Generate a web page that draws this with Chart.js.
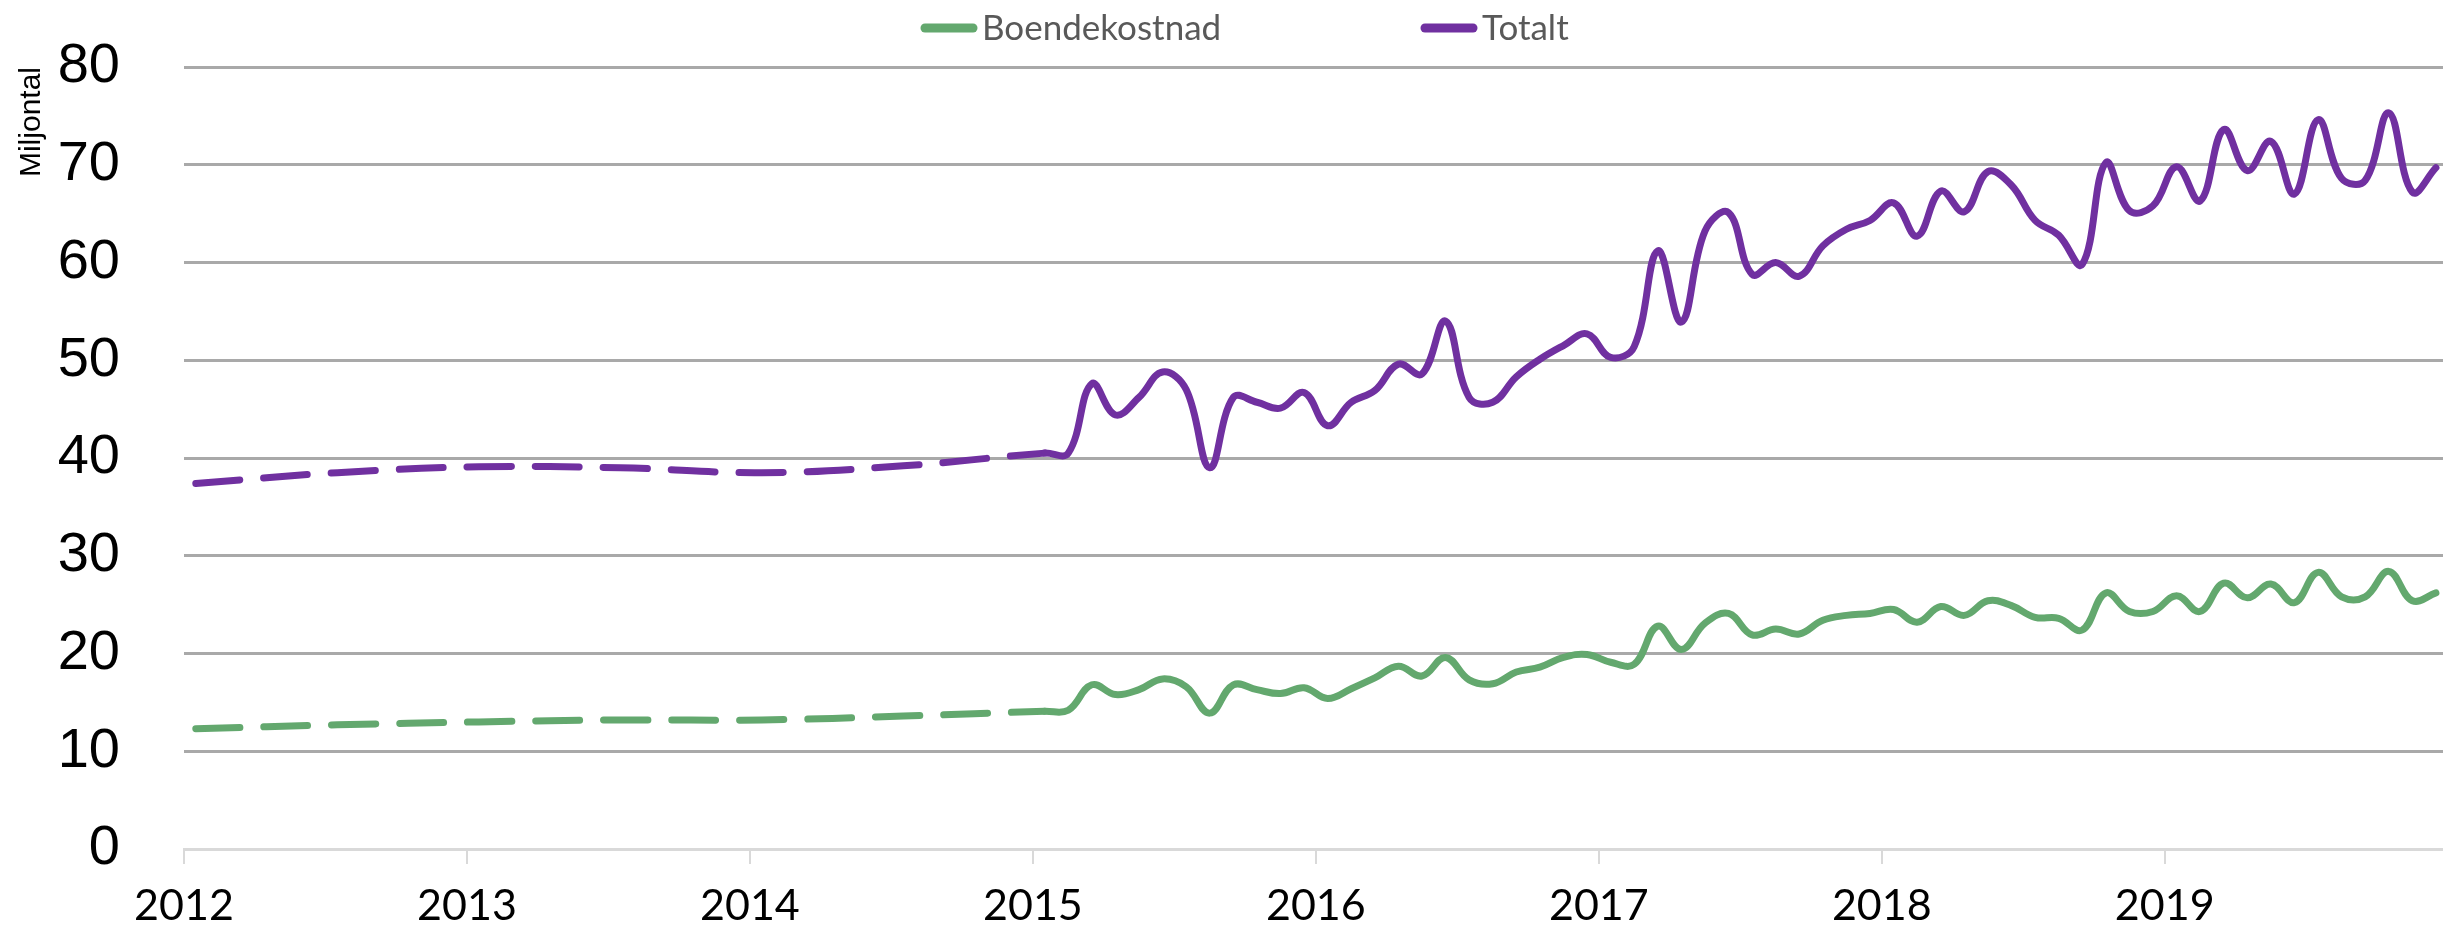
<!DOCTYPE html>
<html>
<head>
<meta charset="utf-8">
<script src="https://cdn.jsdelivr.net/npm/chart.js@4.4.1/dist/chart.umd.min.js"></script>
<style>
  html, body { margin: 0; padding: 0; background: #fff; }
  #wrap { width: 2443px; height: 934px; }
</style>
</head>
<body>
<div id="wrap"><canvas id="chart"></canvas></div>
<script>
// estimated (dashed) part, sparse points
const estDates = ['2012-01', '2012-07', '2013-01', '2013-07', '2014-01', '2014-07'];
const estBoende = [12.3, 12.7, 13.0, 13.2, 13.2, 13.6];
const estTotalt = [37.4, 38.5, 39.1, 39.0, 38.5, 39.2];

// monthly values, Jan 2015 - Dec 2019
const boende = [
    14.1, 14.2, 16.8, 15.8, 16.3, 17.4, 16.6, 13.9, 16.8, 16.3, 15.9, 16.5,
    15.4, 16.4, 17.5, 18.7, 17.7, 19.6, 17.3, 16.9, 18.1, 18.6, 19.6, 19.9,
    19.1, 18.9, 22.8, 20.4, 23.1, 24.1, 21.9, 22.5, 22.0, 23.4, 23.9, 24.1,
    24.5, 23.2, 24.8, 23.9, 25.4, 24.9, 23.7, 23.6, 22.4, 26.2, 24.3, 24.3,
    25.9, 24.3, 27.2, 25.7, 27.1, 25.2, 28.3, 25.8, 25.8, 28.4, 25.4, 26.2
];
const totalt = [
    40.5, 40.5, 47.6, 44.4, 46.2, 48.8, 47.0, 39.0, 46.2, 45.7, 45.1, 46.7,
    43.3, 45.7, 46.9, 49.6, 48.6, 54.0, 46.2, 45.7, 48.3, 50.1, 51.5, 52.7,
    50.3, 51.4, 61.2, 53.9, 63.2, 65.1, 58.8, 60.0, 58.6, 61.7, 63.4, 64.3,
    66.1, 62.7, 67.3, 65.2, 69.3, 67.9, 64.3, 62.8, 59.8, 70.2, 65.3, 65.8,
    69.8, 66.3, 73.6, 69.4, 72.4, 67.0, 74.6, 68.6, 68.4, 75.3, 67.2, 69.7
];
const yearLabels = ['2012', '2013', '2014', '2015', '2016', '2017', '2018', '2019'];
const seriesNames = ['Boendekostnad', 'Totalt'];
const seriesColors = ['#63a86e', '#7030a0'];

const firstYear = 2012;
const dates = [];
for (let y = 2015; y <= 2019; y++) {
    for (let m = 1; m <= 12; m++) dates.push(y + '-' + String(m).padStart(2, '0'));
}

// month position on the axis, points sit mid-month
function monthPos(d) {
    const [y, m] = d.split('-').map(Number);
    return (y - firstYear) * 12 + (m - 1) + 0.5;
}

function buildSeries(estD, estV, vals) {
    const pts = estD.map((d, i) => ({ x: monthPos(d), y: estV[i] }));
    return pts.concat(dates.map((d, i) => ({ x: monthPos(d), y: vals[i] })));
}

const dashEnd = monthPos(dates[0]);

function lineDataset(i, data) {
    return {
        label: seriesNames[i],
        data: data,
        borderColor: seriesColors[i],
        backgroundColor: seriesColors[i],
        borderWidth: 7,
        borderCapStyle: 'round',
        borderJoinStyle: 'round',
        pointRadius: 0,
        tension: 0.4,
        segment: {
            borderDash: ctx => ctx.p1.parsed.x <= dashEnd ? [44, 24] : undefined
        }
    };
}

// legend drawn as line samples like the original
const lineLegend = {
    id: 'lineLegend',
    afterDraw(chart) {
        const c = chart.ctx;
        c.save();
        c.font = '35px Lato';
        c.textBaseline = 'middle';
        const y = 28;
        let x = 921;
        chart.data.datasets.forEach(ds => {
            c.strokeStyle = ds.borderColor;
            c.lineWidth = 9;
            c.lineCap = 'round';
            c.beginPath();
            c.moveTo(x + 4, y);
            c.lineTo(x + 52, y);
            c.stroke();
            c.fillStyle = '#595959';
            c.fillText(ds.label, x + 61, y + 1);
            x += 500;
        });
        c.restore();
    }
};

document.addEventListener('DOMContentLoaded', function () {
    const ctx = document.getElementById('chart').getContext('2d');
    new Chart(ctx, {
        type: 'line',
        data: {
            datasets: [
                lineDataset(0, buildSeries(estDates, estBoende, boende)),
                lineDataset(1, buildSeries(estDates, estTotalt, totalt))
            ]
        },
        options: {
            responsive: true,
            maintainAspectRatio: false,
            animation: false,
            layout: { padding: { top: 67, left: 0, right: 0, bottom: 0 } },
            plugins: {
                legend: { display: false },
                tooltip: { enabled: false }
            },
            scales: {
                x: {
                    type: 'linear',
                    min: 0,
                    max: 95.8,
                    afterBuildTicks: scale => {
                        scale.ticks = yearLabels.map((l, i) => ({ value: i * 12 }));
                    },
                    afterFit: scale => { scale.height = 85; },
                    ticks: {
                        callback: (v, i) => yearLabels[i],
                        font: { family: 'Lato', size: 43 },
                        color: '#000',
                        padding: 16,
                        maxRotation: 0
                    },
                    grid: {
                        drawOnChartArea: false,
                        drawTicks: true,
                        tickLength: 15,
                        color: '#d9d9d9',
                        lineWidth: 2
                    },
                    border: { color: '#d9d9d9', width: 3 }
                },
                y: {
                    min: 0,
                    max: 80,
                    afterFit: scale => {
                        scale.width = 184;
                        scale.paddingTop = 0;
                        scale.paddingBottom = 0;
                    },
                    ticks: {
                        stepSize: 10,
                        font: { family: 'Liberation Sans', size: 56 },
                        color: '#000',
                        padding: 64
                    },
                    grid: {
                        drawTicks: false,
                        color: c => c.tick.value === 0 ? 'rgba(0,0,0,0)' : '#a9a9a9',
                        lineWidth: 3
                    },
                    border: { display: false },
                    title: {
                        display: true,
                        text: 'Miljontal',
                        align: 'end',
                        color: '#000',
                        font: { family: 'Liberation Sans', size: 30 },
                        padding: { top: 14, bottom: 0 }
                    }
                }
            }
        },
        plugins: [lineLegend]
    });
});
</script>
</body>
</html>
